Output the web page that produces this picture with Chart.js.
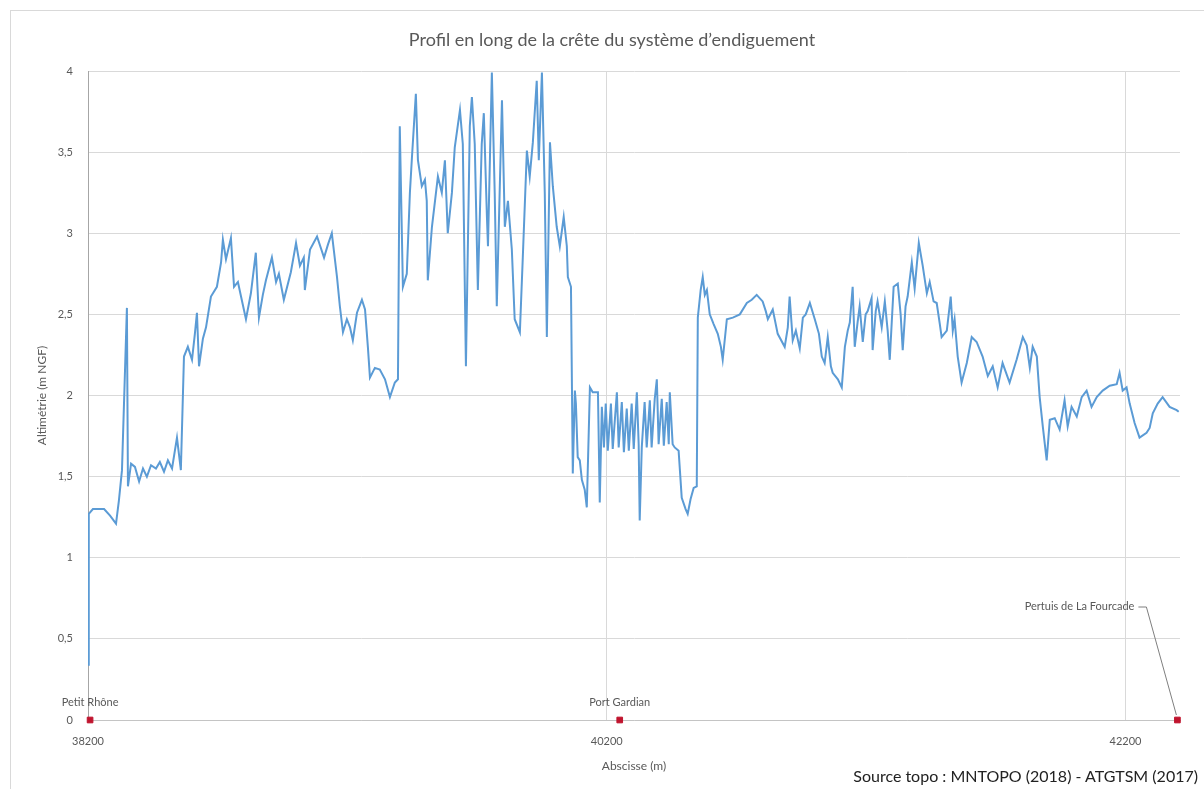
<!DOCTYPE html>
<html>
<head>
<meta charset="utf-8">
<title>Profil en long</title>
<script src="https://cdn.jsdelivr.net/npm/chart.js@4"></script>
<style>
  body { margin: 0; background: #fff; }
  #wrap { position: relative; width: 1204px; height: 789px; overflow: hidden; font-family: Lato, "Open Sans", sans-serif; }
  #frame { position: absolute; left: 10px; top: 10px; width: 1200px; height: 800px; border: 1px solid #d9d9d9; }
  #titre { position: absolute; left: 0; width: 1224px; top: 28px; text-align: center; font-size: 18px; color: #595959; }
  #source { position: absolute; right: 6px; top: 766px; font-size: 16px; color: #222; }
  canvas { position: absolute; left: 0; top: 0; }
</style>
</head>
<body>
<div id="wrap">
  <div id="frame"></div>
  <canvas id="profilChart" width="1204" height="789"></canvas>
  <div id="titre">Profil en long de la crête du système d’endiguement</div>
  <div id="source">Source topo : MNTOPO (2018) - ATGTSM (2017)</div>
</div>
<script>
// Abscisse (m) and crest altitude (m NGF)
const abscisse = [
  38200, 38203, 38219, 38262, 38285, 38308, 38319, 38331, 38350, 38354,
  38366, 38381, 38397, 38412, 38427, 38443, 38462, 38477, 38493, 38508,
  38524, 38543, 38558, 38570, 38585, 38601, 38612, 38620, 38628, 38643,
  38655, 38674, 38697, 38713, 38720, 38732, 38751, 38763, 38778, 38790,
  38809, 38828, 38847, 38859, 38874, 38886, 38909, 38925, 38936, 38955,
  38982, 39002, 39017, 39032, 39036, 39056, 39083, 39110, 39125, 39140,
  39160, 39171, 39183, 39198, 39210, 39221, 39237, 39256, 39268, 39279,
  39287, 39306, 39325, 39345, 39364, 39383, 39395, 39402, 39414, 39429,
  39441, 39449, 39464, 39472, 39487, 39499, 39506, 39510, 39526, 39549,
  39564, 39576, 39587, 39603, 39614, 39634, 39645, 39657, 39672, 39680,
  39691, 39703, 39718, 39726, 39738, 39742, 39757, 39768, 39776, 39796,
  39807, 39819, 39834, 39845, 39865, 39876, 39892, 39903, 39915, 39930,
  39938, 39950, 39961, 39969, 39981, 39992, 40007, 40019, 40034, 40046,
  40050, 40062, 40069, 40077, 40081, 40088, 40096, 40104, 40115, 40123,
  40135, 40146, 40166, 40173, 40181, 40189, 40196, 40204, 40216, 40223,
  40239, 40246, 40258, 40266, 40277, 40285, 40296, 40304, 40316, 40323,
  40327, 40335, 40346, 40354, 40366, 40373, 40385, 40393, 40400, 40412,
  40420, 40431, 40439, 40443, 40454, 40462, 40477, 40489, 40504, 40512,
  40523, 40535, 40547, 40551, 40562, 40570, 40578, 40586, 40597, 40612,
  40628, 40640, 40647, 40663, 40686, 40713, 40740, 40759, 40778, 40801,
  40813, 40821, 40840, 40859, 40886, 40898, 40905, 40917, 40929, 40944,
  40956, 40967, 40983, 41002, 41018, 41029, 41040, 41052, 41064, 41071,
  41091, 41106, 41118, 41129, 41137, 41148, 41156, 41167, 41175, 41187,
  41198, 41206, 41221, 41225, 41237, 41244, 41260, 41272, 41283, 41291,
  41306, 41322, 41333, 41341, 41352, 41360, 41376, 41387, 41403, 41418,
  41434, 41445, 41460, 41472, 41484, 41491, 41511, 41526, 41534, 41541,
  41553, 41568, 41588, 41607, 41626, 41649, 41669, 41688, 41707, 41726,
  41753, 41780, 41804, 41819, 41831, 41842, 41858, 41869, 41881, 41896,
  41908, 41927, 41946, 41965, 41977, 41992, 42012, 42031, 42050, 42069,
  42089, 42112, 42139, 42166, 42177, 42189, 42204, 42216, 42235, 42254,
  42281, 42293, 42305, 42324, 42343, 42370, 42397, 42405
];
const altitude = [
  0.34, 1.27, 1.30, 1.30, 1.26, 1.21, 1.35, 1.54, 2.54, 1.44,
  1.58, 1.56, 1.47, 1.55, 1.50, 1.57, 1.55, 1.59, 1.53, 1.60,
  1.55, 1.74, 1.54, 2.24, 2.30, 2.22, 2.38, 2.51, 2.18, 2.35,
  2.42, 2.61, 2.67, 2.82, 2.96, 2.84, 2.97, 2.67, 2.70, 2.61,
  2.47, 2.63, 2.88, 2.48, 2.62, 2.71, 2.85, 2.70, 2.75, 2.59,
  2.76, 2.94, 2.80, 2.85, 2.65, 2.90, 2.98, 2.85, 2.93, 3.00,
  2.73, 2.55, 2.39, 2.47, 2.42, 2.34, 2.51, 2.59, 2.53, 2.30,
  2.11, 2.17, 2.16, 2.10, 1.99, 2.08, 2.10, 3.66, 2.67, 2.75,
  3.25, 3.47, 3.86, 3.45, 3.29, 3.33, 3.20, 2.71, 3.04, 3.35,
  3.25, 3.45, 3.00, 3.25, 3.53, 3.76, 3.55, 2.18, 3.66, 3.84,
  3.55, 2.65, 3.55, 3.74, 3.10, 2.92, 3.99, 3.25, 2.55, 3.82,
  3.04, 3.20, 2.90, 2.47, 2.39, 2.84, 3.51, 3.35, 3.56, 3.94,
  3.45, 3.99, 3.25, 2.36, 3.56, 3.29, 3.04, 2.92, 3.10, 2.92,
  2.73, 2.67, 1.52, 2.03, 1.95, 1.62, 1.60, 1.48, 1.42, 1.31,
  2.05, 2.02, 2.02, 1.34, 1.93, 1.68, 1.95, 1.66, 1.95, 1.67,
  2.02, 1.68, 1.96, 1.65, 1.92, 1.66, 1.95, 1.67, 2.02, 1.70,
  1.23, 1.68, 1.96, 1.68, 1.97, 1.68, 1.98, 2.10, 1.70, 1.98,
  1.69, 1.96, 1.70, 2.02, 1.70, 1.68, 1.66, 1.37, 1.30, 1.27,
  1.36, 1.43, 1.44, 2.48, 2.65, 2.73, 2.62, 2.65, 2.50, 2.44,
  2.38, 2.30, 2.22, 2.47, 2.48, 2.50, 2.57, 2.59, 2.62, 2.58,
  2.52, 2.47, 2.53, 2.38, 2.30, 2.42, 2.61, 2.34, 2.40, 2.29,
  2.48, 2.50, 2.57, 2.47, 2.38, 2.24, 2.20, 2.36, 2.18, 2.14,
  2.10, 2.05, 2.30, 2.40, 2.45, 2.67, 2.30, 2.45, 2.55, 2.33,
  2.50, 2.52, 2.60, 2.28, 2.52, 2.58, 2.42, 2.58, 2.40, 2.22,
  2.67, 2.69, 2.50, 2.28, 2.55, 2.61, 2.82, 2.66, 2.94, 2.80,
  2.63, 2.70, 2.58, 2.57, 2.44, 2.36, 2.40, 2.61, 2.40, 2.47,
  2.24, 2.08, 2.20, 2.36, 2.33, 2.24, 2.12, 2.18, 2.05, 2.20,
  2.08, 2.22, 2.36, 2.31, 2.17, 2.30, 2.24, 1.99, 1.81, 1.60,
  1.85, 1.86, 1.79, 1.97, 1.81, 1.93, 1.87, 1.99, 2.03, 1.93,
  1.99, 2.03, 2.06, 2.07, 2.14, 2.03, 2.05, 1.95, 1.83, 1.74,
  1.77, 1.80, 1.89, 1.95, 1.99, 1.93, 1.91, 1.90
];

// Reference points along the dike
const sitesNoms = ["Petit Rhône", "Port Gardian", "Pertuis de La Fourcade"];
const sitesAbscisse = [38208, 40250, 42400];
const sitesAltitude = [0, 0, 0];

// Axis ticks
const xTicks = [38200, 40200, 42200];
const xMin = 38200;
const xMax = 42410;
const yMin = 0;
const yMax = 4;
const yStep = 0.5;

const profil = abscisse.map((x, i) => ({ x: x, y: altitude[i] }));
const sites = sitesAbscisse.map((x, i) => ({ x: x, y: sitesAltitude[i] }));

const fontFamily = "Lato, 'Open Sans', sans-serif";
const gris = "#595959";

// Site names above the red markers, with a leader line for the last one
const siteLabels = {
  id: "siteLabels",
  afterDatasetsDraw(chart) {
    const ctx = chart.ctx;
    const xs = chart.scales.x;
    const ys = chart.scales.y;
    ctx.save();
    ctx.font = "11px " + fontFamily;
    ctx.fillStyle = gris;
    ctx.textBaseline = "middle";
    sitesNoms.forEach((nom, i) => {
      const px = xs.getPixelForValue(sitesAbscisse[i]);
      const py = ys.getPixelForValue(sitesAltitude[i]);
      if (i < 2) {
        ctx.textAlign = "center";
        ctx.fillText(nom, px, py - 18);
      } else {
        ctx.textAlign = "right";
        ctx.fillText(nom, px - 43, py - 114);
        ctx.strokeStyle = "#7f7f7f";
        ctx.lineWidth = 1;
        ctx.beginPath();
        ctx.moveTo(px - 39, py - 113);
        ctx.lineTo(px - 31, py - 113);
        ctx.lineTo(px - 1, py - 5);
        ctx.stroke();
      }
    });
    ctx.restore();
  }
};

const ctx = document.getElementById("profilChart").getContext("2d");
const profilChart = new Chart(ctx, {
  data: {
    datasets: [
      {
        type: "scatter",
        label: "Sites",
        data: sites,
        pointStyle: "rect",
        pointRadius: 4,
        backgroundColor: "#c0142e",
        borderColor: "#c0142e",
        clip: false,
        order: 0
      },
      {
        type: "line",
        label: "Profil",
        data: profil,
        borderColor: "#5b9bd5",
        borderWidth: 2,
        pointRadius: 0,
        tension: 0,
        fill: false,
        order: 1
      }
    ]
  },
  options: {
    responsive: false,
    animation: false,
    layout: { padding: { left: 0, top: 71, right: 24, bottom: 0 } },
    plugins: {
      legend: { display: false },
      tooltip: { enabled: false }
    },
    scales: {
      x: {
        type: "linear",
        min: xMin,
        max: xMax,
        afterBuildTicks: (axis) => {
          axis.ticks = xTicks.map((v) => ({ value: v }));
        },
        afterFit: (scale) => { scale.height = 69; },
        grid: { color: "#d9d9d9", drawTicks: false },
        border: { color: "#c4c4c4", width: 1 },
        ticks: {
          padding: 15,
          maxRotation: 0,
          color: gris,
          font: { family: fontFamily, size: 11 },
          callback: (v) => String(v)
        },
        title: {
          display: true,
          text: "Abscisse (m)",
          color: gris,
          font: { family: fontFamily, size: 12 },
          padding: { top: 0, bottom: 16 }
        }
      },
      y: {
        min: yMin,
        max: yMax,
        afterFit: (scale) => { scale.width = 88; },
        grid: { color: "#d9d9d9", drawTicks: false },
        border: { color: "#a6a6a6", width: 1 },
        ticks: {
          stepSize: yStep,
          padding: 15,
          color: gris,
          font: { family: fontFamily, size: 11 },
          callback: (v) => String(v).replace(".", ",")
        },
        title: {
          display: true,
          text: "Altimétrie (m NGF)",
          color: gris,
          font: { family: fontFamily, size: 12 },
          padding: { top: 35, bottom: 0 }
        }
      }
    }
  },
  plugins: [siteLabels]
});
</script>
</body>
</html>
